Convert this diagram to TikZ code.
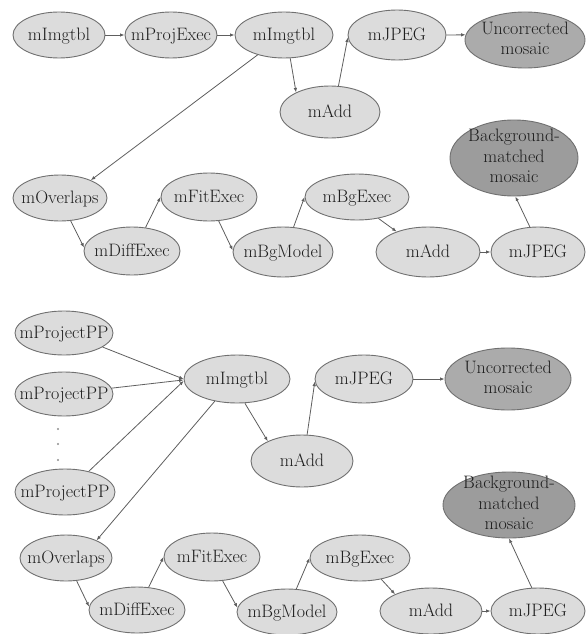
\documentclass[tikz,border=0pt]{standalone}
\usetikzlibrary{shapes.geometric,arrows.meta}
\definecolor{lightfill}{HTML}{DCDCDC}
\definecolor{uncfill}{HTML}{ABABAB}
\definecolor{bgfill}{HTML}{9C9C9C}
\definecolor{bordergray}{HTML}{707070}
\definecolor{linegray}{HTML}{5E5E5E}
\definecolor{textgray}{HTML}{1E1E1E}
\newcommand{\lbl}[1]{\makebox[0pt]{\raisebox{-0.33em}[0pt][0pt]{#1}}}
\newcommand{\lblm}[1]{\makebox[0pt]{\raisebox{-0.25em}[0pt][0pt]{\begin{tabular}{@{}c@{}}#1\end{tabular}}}}
\tikzset{
  proc/.style={ellipse, draw=bordergray, line width=0.9pt, fill=lightfill, inner sep=0pt,
    text=textgray, font=\rmfamily\fontsize{18}{20.5}\selectfont},
  unc/.style={proc, fill=uncfill},
  bgm/.style={proc, fill=bgfill},
  sz/.style 2 args={minimum width=#1pt, minimum height=#2pt},
  link/.style={draw=linegray, line width=0.8pt, -{Latex[length=4.5pt,width=3.5pt]}},
}
\begin{document}
\begin{tikzpicture}[x=1pt,y=-1pt]
\useasboundingbox (0,0) rectangle (587,634);
% ---------- top workflow ----------
\node[proc,sz={92}{46}]  (i1) at (59,35)   {\lbl{mImgtbl}};
\node[proc,sz={92}{46}]  (p1) at (171,35)  {\lbl{mProjExec}};
\node[proc,sz={98}{46}]  (i2) at (284,35)  {\lbl{mImgtbl}};
\node[proc,sz={100}{52}] (a1) at (330,112) {\lbl{mAdd}};
\node[proc,sz={98}{50}]  (j1) at (397,35)  {\lbl{mJPEG}};
\node[unc,sz={120}{56}]  (u1) at (525,40)  {\lblm{Uncorrected\\mosaic}};
\node[bgm,sz={128}{76}]  (b1) at (514,158) {\lblm{Background-\\matched\\mosaic}};
\node[proc,sz={94}{46}]  (o1) at (60,198)  {\lbl{mOverlaps}};
\node[proc,sz={96}{48}]  (d1) at (132,251) {\lbl{mDiffExec}};
\node[proc,sz={96}{48}]  (f1) at (209,197) {\lbl{mFitExec}};
\node[proc,sz={100}{50}] (m1) at (283,252) {\lbl{mBgModel}};
\node[proc,sz={104}{46}] (e1) at (357,197) {\lbl{mBgExec}};
\node[proc,sz={104}{50}] (a2) at (428,252) {\lbl{mAdd}};
\node[proc,sz={94}{50}]  (j2) at (538,252) {\lbl{mJPEG}};

\draw[link] (i1.east) -- (p1.west);
\draw[link] (p1.east) -- (i2.west);
\draw[link] (i2.-75) -- (a1.150);
\draw[link] (i2.-143) -- (o1.30);
\draw[link] (a1.72) -- (j1.183);
\draw[link] (j1.east) -- (u1.175);
\draw[link] (o1.-65) -- (d1.176);
\draw[link] (d1.60) -- (f1.180);
\draw[link] (f1.-68) -- (m1.178);
\draw[link] (m1.67) -- (e1.180);
\draw[link] (e1.-45) -- (a2.147);
\draw[link] (a2.east) -- (j2.west);
\draw[link] (j2.108) -- (b1.-88);

% ---------- bottom workflow ----------
\node[proc,sz={98}{44}]  (pp1) at (64,333) {\lbl{mProjectPP}};
\node[proc,sz={98}{44}]  (pp2) at (64,394) {\lbl{mProjectPP}};
\node[proc,sz={100}{46}] (pp3) at (65,492) {\lbl{mProjectPP}};
\fill[linegray!70] (58,429) circle (1.2) (58,444) circle (1.2) (58,460) circle (1.2);
\node[proc,sz={106}{48}] (i3) at (237,379) {\lbl{mImgtbl}};
\node[proc,sz={102}{52}] (a3) at (302,461) {\lbl{mAdd}};
\node[proc,sz={98}{48}]  (j3) at (364,379) {\lbl{mJPEG}};
\node[unc,sz={126}{62}]  (u3) at (508,379) {\lblm{Uncorrected\\mosaic}};
\node[bgm,sz={132}{66}]  (b2) at (509,505) {\lblm{Background-\\matched\\mosaic}};
\node[proc,sz={92}{46}]  (o2) at (66,558)  {\lbl{mOverlaps}};
\node[proc,sz={96}{48}]  (f2) at (212,557) {\lbl{mFitExec}};
\node[proc,sz={96}{46}]  (d2) at (137,610) {\lbl{mDiffExec}};
\node[proc,sz={100}{46}] (m2) at (287,612) {\lbl{mBgModel}};
\node[proc,sz={100}{46}] (e2) at (360,558) {\lbl{mBgExec}};
\node[proc,sz={102}{46}] (a4) at (431,611) {\lbl{mAdd}};
\node[proc,sz={94}{46}]  (j4) at (538,611) {\lbl{mJPEG}};

\draw[link] (pp1.-20) -- (i3.180);
\draw[link] (pp2.7) -- (i3.181);
\draw[link] (pp3.41) -- (i3.182);
\draw[link] (i3.-135) -- (o2.30);
\draw[link] (i3.-72) -- (a3.150);
\draw[link] (a3.79) -- (j3.183);
\draw[link] (j3.east) -- (u3.west);
\draw[link] (o2.-65) -- (d2.176);
\draw[link] (d2.63) -- (f2.180);
\draw[link] (f2.-66) -- (m2.175);
\draw[link] (m2.68) -- (e2.180);
\draw[link] (e2.-45) -- (a4.155);
\draw[link] (a4.east) -- (j4.west);
\draw[link] (j4.105) -- (b2.-90);
\end{tikzpicture}
\end{document}
